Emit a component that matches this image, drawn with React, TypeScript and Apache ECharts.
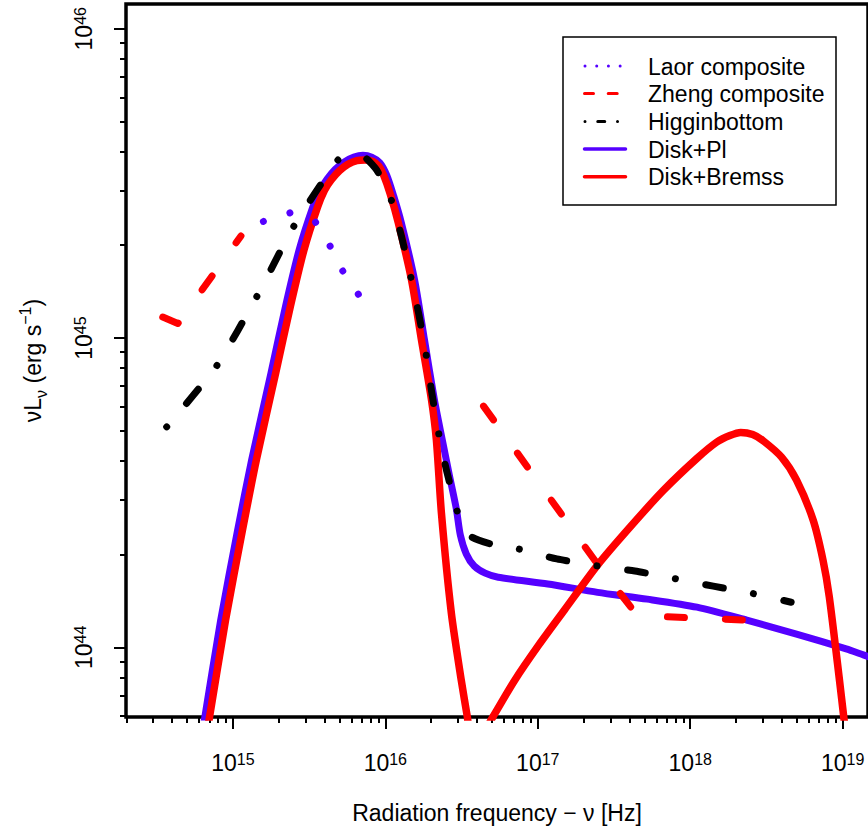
import React, { useEffect, useRef } from 'react';
import * as echarts from 'echarts';

const FONT = '"Liberation Sans", Arial, Helvetica, sans-serif';
const BLUE = '#5500ff';
const RED = '#ff0000';
const BLACK = '#000000';

// Axis extents, as log10 of the values
const X_LOG_MIN = 14.299;
const X_LOG_MAX = 19.166;
const Y_LOG_MIN = 43.775;
const Y_LOG_MAX = 46.08;

// Tick exponents / mantissas
const X_MAJOR_EXP = [15, 16, 17, 18, 19];
const X_MINOR_DECADES = [14, 15, 16, 17, 18];
const Y_MAJOR_EXP = [44, 45, 46];
const Y_MINOR_DECADES = [43, 44, 45];
const MINOR_MULT = [2, 3, 4, 5, 6, 7, 8, 9];

const X_TITLE = 'Radiation frequency \u2212 \u03bd [Hz]';
const LEGEND_LABELS = ['Laor composite', 'Zheng composite', 'Higginbottom', 'Disk+Pl', 'Disk+Bremss'];

// ---- Data (log10 nu [Hz], log10 nuL_nu [erg/s]) ----
const LAOR_LOG_NU = [15.2, 15.381, 15.538, 15.637, 15.724, 15.828];
const LAOR_LOG_L = [45.377, 45.406, 45.378, 45.298, 45.214, 45.138];

const ZHENG_OPT_LOG_NU = [14.54, 14.639, 15.053];
const ZHENG_OPT_LOG_L = [45.068, 45.047, 45.33];
const ZHENG_X_LOG_NU = [16.644, 17.386, 17.653, 18.384];
const ZHENG_X_LOG_L = [44.78, 44.273, 44.103, 44.088];

const HIGG_LOG_NU = [14.566, 14.892, 15.157, 15.398, 15.688, 15.761, 15.826, 15.879, 15.944, 16.033, 16.104, 16.164, 16.218, 16.266, 16.303, 16.348, 16.401, 16.468, 16.515, 16.57, 16.694, 16.875, 17.125, 17.381, 17.637, 17.892, 18.151, 18.403, 18.662];
const HIGG_LOG_L = [44.713, 44.909, 45.134, 45.36, 45.575, 45.59, 45.592, 45.579, 45.543, 45.455, 45.333, 45.204, 45.081, 44.952, 44.829, 44.697, 44.573, 44.446, 44.385, 44.356, 44.334, 44.318, 44.286, 44.264, 44.247, 44.223, 44.198, 44.175, 44.146];

const DISK_PL_LOG_NU = [14.78, 14.816, 14.92, 15.031, 15.123, 15.25, 15.344, 15.434, 15.524, 15.572, 15.618, 15.67, 15.729, 15.794, 15.853, 15.911, 15.964, 16.009, 16.055, 16.104, 16.192, 16.257, 16.322, 16.374, 16.42, 16.466, 16.492, 16.531, 16.583, 16.655, 16.74, 17.066, 17.392, 17.718, 18.044, 18.371, 18.697, 19.023, 19.14, 19.219];
const DISK_PL_LOG_L = [43.667, 43.775, 44.088, 44.379, 44.606, 44.887, 45.1, 45.284, 45.423, 45.478, 45.514, 45.545, 45.569, 45.585, 45.591, 45.585, 45.567, 45.527, 45.459, 45.375, 45.188, 44.994, 44.8, 44.67, 44.557, 44.447, 44.363, 44.302, 44.263, 44.24, 44.227, 44.205, 44.178, 44.156, 44.13, 44.088, 44.043, 43.995, 43.975, 43.962];

const DISK_BREMSS_LOG_NU = [14.8, 14.847, 14.952, 15.063, 15.154, 15.281, 15.376, 15.466, 15.555, 15.601, 15.646, 15.699, 15.755, 15.813, 15.866, 15.918, 15.957, 15.99, 16.032, 16.084, 16.172, 16.237, 16.303, 16.335, 16.368, 16.433, 16.498, 16.538, 16.574, 16.705, 16.849, 17.007, 17.175, 17.392, 17.607, 17.827, 18.044, 18.175, 18.26, 18.331, 18.41, 18.481, 18.599, 18.697, 18.806, 18.871, 18.912, 18.979, 19.007, 19.03];
const DISK_BREMSS_LOG_L = [43.634, 43.775, 44.088, 44.379, 44.606, 44.887, 45.1, 45.284, 45.423, 45.478, 45.512, 45.541, 45.562, 45.574, 45.576, 45.571, 45.556, 45.525, 45.466, 45.375, 45.188, 44.994, 44.8, 44.67, 44.434, 44.111, 43.894, 43.775, 43.668, 43.775, 43.894, 44.008, 44.121, 44.266, 44.39, 44.509, 44.611, 44.664, 44.685, 44.695, 44.688, 44.667, 44.615, 44.541, 44.412, 44.282, 44.164, 43.894, 43.775, 43.68];

const p10 = (v: number) => Math.pow(10, v);
const pairs = (xs: number[], ys: number[]) => xs.map((x, i) => [p10(x), p10(ys[i])]);

const X_MAJOR = X_MAJOR_EXP.map(p10);
const X_MINOR = X_MINOR_DECADES.flatMap((d) => MINOR_MULT.map((m) => m * p10(d)));
const Y_MAJOR = Y_MAJOR_EXP.map(p10);
const Y_MINOR = Y_MINOR_DECADES.flatMap((d) => MINOR_MULT.map((m) => m * p10(d)));

const tickRich = {
  b: { fontSize: 23, lineHeight: 24, verticalAlign: 'top', fontFamily: FONT, color: '#000' },
  s: { fontSize: 16, lineHeight: 16, verticalAlign: 'top', fontFamily: FONT, color: '#000' },
};
const powLabel = (v: number) => `{b|10}{s|${Math.round(Math.log10(v))}}`;

const tickLine = { color: '#000', width: 2 };

const buildOption = () => {
  const legendYs = [66, 93.5, 121.5, 149, 176.7];
  const legendGraphics: any[] = [
    { type: 'rect', z: 100, shape: { x: 563, y: 37, width: 273, height: 168 }, style: { fill: '#fff', stroke: '#000', lineWidth: 1.5 } },
    { type: 'line', z: 101, shape: { x1: 585, y1: legendYs[0], x2: 627, y2: legendYs[0] }, style: { stroke: BLUE, lineWidth: 3, lineDash: [0.01, 11.7], lineCap: 'round' } },
    { type: 'line', z: 101, shape: { x1: 584.5, y1: legendYs[1], x2: 627, y2: legendYs[1] }, style: { stroke: RED, lineWidth: 3, lineDash: [9, 14.7], lineCap: 'round' } },
    { type: 'line', z: 101, shape: { x1: 585, y1: legendYs[2], x2: 627, y2: legendYs[2] }, style: { stroke: BLACK, lineWidth: 3, lineDash: [0.01, 12.75, 7, 12.75], lineCap: 'round' } },
    { type: 'line', z: 101, shape: { x1: 584.5, y1: legendYs[3], x2: 625.5, y2: legendYs[3] }, style: { stroke: BLUE, lineWidth: 3.5, lineCap: 'round' } },
    { type: 'line', z: 101, shape: { x1: 584.5, y1: legendYs[4], x2: 625.5, y2: legendYs[4] }, style: { stroke: RED, lineWidth: 3.5, lineCap: 'round' } },
  ];
  LEGEND_LABELS.forEach((t, i) => {
    legendGraphics.push({
      type: 'text', z: 101, x: 648, y: legendYs[i] + 0.5,
      style: { text: t, fontSize: 23, fontFamily: FONT, fill: '#000', align: 'left', verticalAlign: 'middle' },
    });
  });

  const baseLine = (name: string, data: number[][], color: string, width: number, type: any, smooth: number | boolean, z: number) => ({
    type: 'line', name, data, xAxisIndex: 0, yAxisIndex: 0, symbol: 'none', showSymbol: false, clip: true, smooth, z,
    lineStyle: { color, width, type, cap: 'round', join: 'round' },
    emphasis: { disabled: true },
  });

  return {
    animation: false,
    backgroundColor: '#ffffff',
    textStyle: { fontFamily: FONT },
    grid: { left: 126, top: 4, width: 746, height: 713, show: true, borderColor: '#000', borderWidth: 3.5, backgroundColor: 'transparent' },
    xAxis: [
      {
        type: 'log', logBase: 10, min: p10(X_LOG_MIN), max: p10(X_LOG_MAX), position: 'bottom',
        axisLine: { show: false }, splitLine: { show: false },
        axisTick: { show: true, customValues: X_MAJOR, length: 12, lineStyle: tickLine },
        axisLabel: { show: true, customValues: X_MAJOR, margin: 34, formatter: powLabel, rich: tickRich },
        name: X_TITLE, nameLocation: 'middle', nameGap: 84,
        nameTextStyle: { fontSize: 23, lineHeight: 24, fontFamily: FONT, color: '#000' },
      },
      {
        type: 'log', logBase: 10, min: p10(X_LOG_MIN), max: p10(X_LOG_MAX), position: 'bottom',
        axisLine: { show: false }, splitLine: { show: false }, axisLabel: { show: false },
        axisTick: { show: true, customValues: X_MINOR, length: 6, lineStyle: tickLine },
      },
    ],
    yAxis: [
      {
        type: 'log', logBase: 10, min: p10(Y_LOG_MIN), max: p10(Y_LOG_MAX), position: 'left',
        axisLine: { show: false }, splitLine: { show: false },
        axisTick: { show: true, customValues: Y_MAJOR, length: 12, lineStyle: tickLine },
        axisLabel: { show: true, customValues: Y_MAJOR, rotate: 90, margin: 30, formatter: powLabel, rich: tickRich },
        name: '{a|\u03bdL}{sub|\u03bd}{a| (erg s}{sup|\u22121}{a|)}',
        nameLocation: 'middle', nameRotate: 90, nameGap: 82.5,
        nameTextStyle: {
          color: '#000', fontFamily: FONT,
          rich: {
            a: { fontSize: 23, lineHeight: 26, verticalAlign: 'top', padding: [4, 0, 0, 0], fontFamily: FONT, color: '#000' },
            sub: { fontSize: 16, lineHeight: 16, verticalAlign: 'top', padding: [16, 0, 0, 0], fontFamily: FONT, color: '#000' },
            sup: { fontSize: 16, lineHeight: 16, verticalAlign: 'top', fontFamily: FONT, color: '#000' },
          },
        },
      },
      {
        type: 'log', logBase: 10, min: p10(Y_LOG_MIN), max: p10(Y_LOG_MAX), position: 'left',
        axisLine: { show: false }, splitLine: { show: false }, axisLabel: { show: false },
        axisTick: { show: true, customValues: Y_MINOR, length: 6, lineStyle: tickLine },
      },
    ],
    series: [
      baseLine('Disk+Pl', pairs(DISK_PL_LOG_NU, DISK_PL_LOG_L), BLUE, 7, 'solid', 0.25, 2),
      baseLine('Disk+Bremss', pairs(DISK_BREMSS_LOG_NU, DISK_BREMSS_LOG_L), RED, 7.5, 'solid', 0.25, 3),
      baseLine('Zheng composite', pairs(ZHENG_OPT_LOG_NU, ZHENG_OPT_LOG_L), RED, 7, [17, 41], false, 4),
      baseLine('Zheng composite', pairs(ZHENG_X_LOG_NU, ZHENG_X_LOG_L), RED, 7, [17, 41], false, 4),
      baseLine('Laor composite', pairs(LAOR_LOG_NU, LAOR_LOG_L), BLUE, 7, [0.01, 27.9], false, 5),
      baseLine('Higginbottom', pairs(HIGG_LOG_NU, HIGG_LOG_L), BLACK, 7, [0.01, 30.75, 18, 30.75], 0.2, 6),
    ],
    graphic: legendGraphics,
  };
};

export default function App() {
  const ref = useRef<HTMLDivElement>(null);
  useEffect(() => {
    if (!ref.current) return;
    const chart = echarts.init(ref.current, null, { renderer: 'svg' });
    chart.setOption(buildOption() as any);
    return () => chart.dispose();
  }, []);
  return (
    <div
      ref={ref}
      style={{ position: 'absolute', left: 0, top: 0, width: 868, height: 833, background: '#fff', overflow: 'hidden' }}
    />
  );
}
